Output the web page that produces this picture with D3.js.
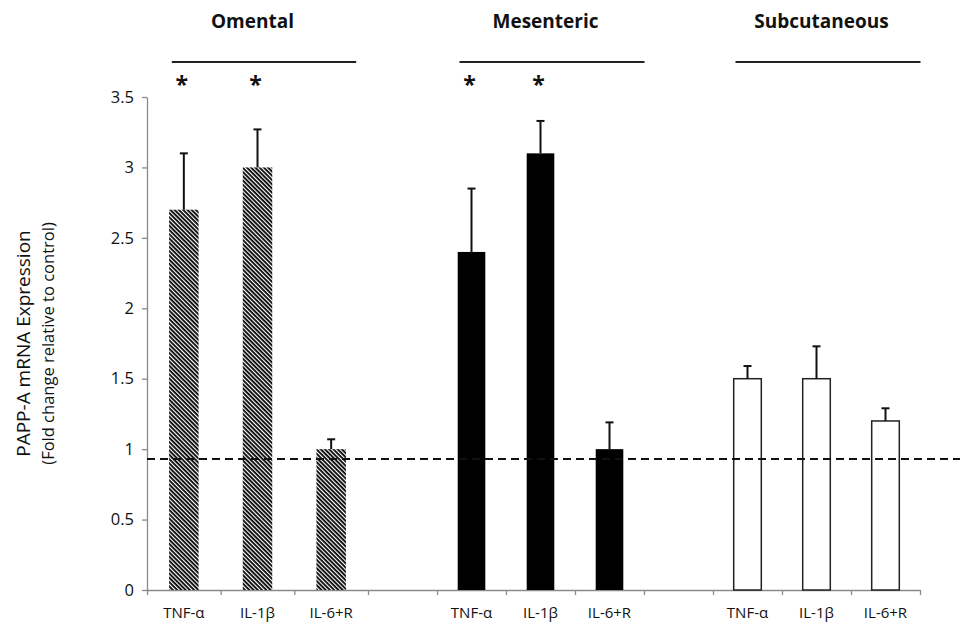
<!DOCTYPE html>
<html>
<head>
<meta charset="utf-8">
<script src="https://cdn.jsdelivr.net/npm/d3@7"></script>
<style>
  body { margin: 0; background: #fff; }
  text { font-family: "Open Sans", "Noto Sans", sans-serif; fill: #111; }
</style>
</head>
<body>
<script>
// data
const groups = ["Omental", "Mesenteric", "Subcutaneous"];
const treatments = ["TNF-α", "IL-1β", "IL-6+R"];
const omentalMean = [2.7, 3.0, 1.0];
const omentalErr = [0.4, 0.27, 0.07];
const mesentericMean = [2.4, 3.1, 1.0];
const mesentericErr = [0.45, 0.23, 0.19];
const subcutMean = [1.5, 1.5, 1.2];
const subcutErr = [0.09, 0.23, 0.09];
const omentalSig = [true, true, false];
const mesentericSig = [true, true, false];
const subcutSig = [false, false, false];
const controlLevel = 0.93;
const yTicks = [0, 0.5, 1, 1.5, 2, 2.5, 3, 3.5];

const means = [omentalMean, mesentericMean, subcutMean];
const errs = [omentalErr, mesentericErr, subcutErr];
const sigs = [omentalSig, mesentericSig, subcutSig];
const fills = ["url(#hatch)", "#000", "#fff"];

// flat rows: 3 bars per group, one empty slot between groups
const rows = [];
groups.forEach((g, gi) => {
  treatments.forEach((t, ti) => {
    rows.push({ group: g, gi, treatment: t, slot: gi * 4 + ti,
      mean: means[gi][ti], err: errs[gi][ti], sig: sigs[gi][ti] });
  });
});

const width = 960, height = 629;
const svg = d3.select("body").append("svg")
  .attr("width", width)
  .attr("height", height);

const hatch = svg.append("defs").append("pattern")
  .attr("id", "hatch")
  .attr("patternUnits", "userSpaceOnUse")
  .attr("width", 3).attr("height", 3)
  .attr("patternTransform", "rotate(45)");
hatch.append("rect").attr("width", 3).attr("height", 3).attr("fill", "#fff");
hatch.append("rect").attr("width", 3).attr("height", 1.8).attr("fill", "#000");

// the original is slightly wider on the first group, so x is piecewise
const x = d3.scaleLinear().domain([0, 3, 11]).range([147, 368, 920]);
const y = d3.scaleLinear().domain([0, 3.5]).range([590, 97]);

const bw = d => x(d.slot + 1) - x(d.slot);
const cx = d => (x(d.slot) + x(d.slot + 1)) / 2;

// axes
const yAxis = svg.append("g")
  .attr("transform", `translate(${x(0)},0)`)
  .call(d3.axisLeft(y).tickValues(yTicks).tickSize(5).tickSizeOuter(0)
    .tickFormat(d => String(d)));
const xAxis = svg.append("g")
  .attr("transform", `translate(0,${y(0)})`)
  .call(d3.axisBottom(x).tickValues(d3.range(12)).tickSize(5).tickSizeOuter(0).tickFormat(""));
[yAxis, xAxis].forEach(a => {
  a.selectAll("path, line").attr("stroke", "#8a8a8a").attr("stroke-width", 1.3);
});
yAxis.selectAll("text")
  .attr("font-size", 16.5)
  .attr("x", -13)
  .style("font-family", "'Open Sans', sans-serif")
  .style("fill", "#111");

// bars
svg.append("g").selectAll("rect")
  .data(rows)
  .join("rect")
  .attr("x", d => cx(d) - bw(d) * 0.2)
  .attr("width", d => bw(d) * 0.4)
  .attr("y", d => y(d.mean))
  .attr("height", d => y(0) - y(d.mean))
  .attr("fill", d => fills[d.gi])
  .attr("stroke", d => d.gi === 2 ? "#222" : "none")
  .attr("stroke-width", 1.5);

// error bars (upper only)
const eb = svg.append("g").attr("stroke", "#111").attr("stroke-width", 2);
eb.selectAll("line.v")
  .data(rows)
  .join("line")
  .attr("class", "v")
  .attr("x1", cx).attr("x2", cx)
  .attr("y1", d => y(d.mean))
  .attr("y2", d => y(d.mean + d.err));
eb.selectAll("line.cap")
  .data(rows)
  .join("line")
  .attr("class", "cap")
  .attr("x1", d => cx(d) - 4).attr("x2", d => cx(d) + 4)
  .attr("y1", d => y(d.mean + d.err))
  .attr("y2", d => y(d.mean + d.err));

// control reference line
svg.append("line")
  .attr("x1", x(0)).attr("x2", width)
  .attr("y1", y(controlLevel)).attr("y2", y(controlLevel))
  .attr("stroke", "#111")
  .attr("stroke-width", 2)
  .attr("stroke-dasharray", "8,5");

// category labels
svg.append("g").selectAll("text")
  .data(rows)
  .join("text")
  .attr("x", cx)
  .attr("y", 618)
  .attr("text-anchor", "middle")
  .attr("font-size", 15)
  .text(d => d.treatment);

// group headers and lines
groups.forEach((g, gi) => {
  const gr = rows.filter(r => r.gi === gi);
  const first = cx(gr[0]), last = cx(gr[gr.length - 1]);
  const shift = gi === 0 ? -10 : 0;
  svg.append("line")
    .attr("x1", first - 12).attr("x2", last + 35 + shift)
    .attr("y1", 62).attr("y2", 62)
    .attr("stroke", "#222").attr("stroke-width", 2);
  svg.append("text")
    .attr("x", (first + last) / 2 + 5 + shift)
    .attr("y", 28)
    .attr("text-anchor", "middle")
    .attr("font-size", 19)
    .attr("font-weight", "bold")
    .text(g);
});

// significance stars
svg.append("g").selectAll("text")
  .data(rows.filter(d => d.sig))
  .join("text")
  .attr("x", d => cx(d) - 2)
  .attr("y", 93)
  .attr("text-anchor", "middle")
  .attr("font-size", 23)
  .attr("font-weight", "bold")
  .text("*");

// y title
const yt = svg.append("text")
  .attr("transform", `translate(30,${(y(0) + y(3.5)) / 2}) rotate(-90)`)
  .attr("text-anchor", "middle");
yt.append("tspan")
  .attr("x", 0).attr("y", 0)
  .attr("font-size", 19)
  .text("PAPP-A mRNA Expression");
yt.append("tspan")
  .attr("x", 0).attr("y", 24)
  .attr("font-size", 16.5)
  .text("(Fold change relative to control)");
</script>
</body>
</html>
